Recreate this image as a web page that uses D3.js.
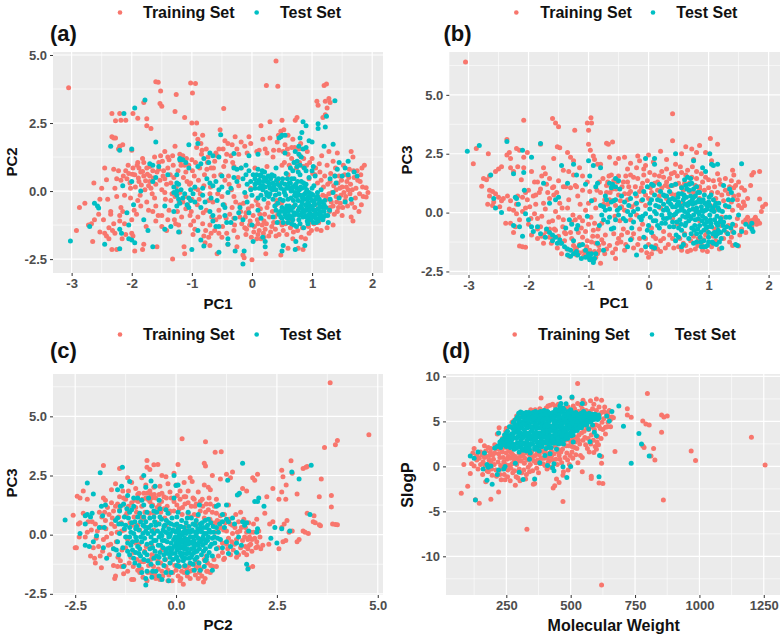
<!DOCTYPE html>
<html><head><meta charset="utf-8">
<script src="https://cdnjs.cloudflare.com/ajax/libs/d3/7.8.5/d3.min.js"></script>
<style>html,body{margin:0;padding:0;background:#fff}svg{display:block}text{font-family:"Liberation Sans",Arial,sans-serif;font-weight:bold}</style>
</head><body><svg id="c" width="784" height="639"></svg>
<script>
const seriesNames=["Training Set","Test Set"];
const colors=["#F8766D","#00BFC4"];

const trainA=[[-3.05,3.8],[-1.6,4.02],[-1.56,4],[-1.52,3.68],[-1.02,3.97],[-.94,3.95],[-.99,3.6],[-1.26,3.55],[-1.53,3.22],[-1.5,3.12],[-.47,3.03],[-1.28,2.92],[-1.12,2.7],[.4,4.78],[.24,3.88],[.43,3.85],[1.2,3.88],[1.24,3.93],[1.08,3.3],[1.1,3.15],[1.28,3.4],[1.22,3.3],[1.3,3.25],[1.25,3.05],[1.22,2.8],[1.18,2.7],[-2.33,2.85],[-2.2,2.85],[-2.1,2.6],[-1.98,2.85],[-2.27,2.58],[-2.18,2.6],[-1.9,2.68],[-1.68,2.3],[-1.75,2.4],[-1.75,2.66],[-1.8,3.25],[-2.33,2],[-2.3,1.95],[-2.27,1.95],[-2.2,1.65],[-2.15,1.7],[-2.22,1.55],[-2,1.5],[-1.82,1.2],[-1.9,1.05],[-1.75,.85],[-1.98,.85],
[-2.92,-1.45],[-2.87,-.6],[-2.78,-.45],[-2.72,-1.25],[-2.67,-1.2],[-2.65,-1.85],[-2.62,-1.05],[-2.63,.3],[-2.53,-1.5],[-2.5,.1],[-2.53,-.3],[-2.45,.85],[-2.47,-1.05],[-2.45,-1.55],[-2.42,-1.65],[-2.38,-1.75],[-2.35,-.85],[-2.33,-2.15],[-2.3,-1.2],[-2.35,-.75],[-2.3,.8],[-2.28,-1.55],[-2.25,-2.15],[-2.25,-.2],[-2.25,.45],[-2.2,-.9],[-2.18,-.6],[-2.18,.4],[-2.15,-.75],[-2.12,-1.2],[-2.1,-1.6],[-2.1,.75],[-2.05,.65],[-2.08,.45],[-2.02,.1],[-2.02,-.25],[-2,-1.55],[-1.98,-1.65],[-1.95,-2.2],[-1.95,.6],[-1.92,-.85],[-1.9,-.35],[-1.88,.35],[-1.85,.7],[-1.82,-2.15],[-1.8,-1.95],[-1.8,.55],[-1.78,.05],[-1.75,-.4],[-1.72,-.7],[-1.72,.2],[-1.7,.55],[-1.65,.75],[-1.62,-.25],[-1.6,-.55],[-1.58,-2.05],[-1.55,1.05],[-1.52,1.3],[-1.5,-.9],[-1.48,.55],[-1.45,-.05],[-1.45,1.45],[-1.42,-1.45],[-1.4,.85],[-1.38,1.15],[-1.35,-.35],[-1.32,-2.5],[-1.3,.5],[-1.28,1.65],[-1.27,-1.2],[-1.24,-.75],[-1.2,-.05],[-1.18,.95],[-1.15,1.3],[-1.13,-2.05],[-1.12,-2.3],[-1.1,-.65],[-1.08,.35],[-1.05,.95],[-1.03,-.9],[-1,1.15],[-1,2.5],[-.98,-1.6],[-.96,.55],[-.95,2.1],[-.92,2.5],[-.9,1.9],[-.88,-.3],[-.87,.85],[-.85,1.75],[-.82,-1.2],[-.82,2.05],[-.8,.2],[-.78,-1.9],[-.76,-.7],[-.73,1.25],[-.7,-2],[-.68,-1.55],[-.65,-.4],[-.63,.55],[-.6,-1.05],[-.58,-2.3],[-.55,1.55],[-.53,2.25],[-.5,-.2],[-.5,-1.7],[-.47,.9],[-.45,1.85],[-.43,-1],[-.4,-1.95],[-.38,.25],[-.35,1.3],[-.33,-.6],[-.3,-1.45],[-.28,2],[-.25,1.55],[-.23,.5],[-.2,-.95],[-.18,1.8],[-.15,-2.35],[-.13,-2.45],[-.12,-1.35],[-.1,-.2],[-.08,1.4],[-.05,2],[-.03,-1.1],[0,-2.52],[0,-.55],[.03,-1.5],[.05,.85],[.08,1.45],[.1,-1.2],[.13,-.85],[.15,2.4],[.15,-1.75],[.18,1.9],[.2,-1.1],[.22,-1.4],[.23,-2.3],[.25,1.4],[.3,1.95],[.3,2.55],[.33,-1.3],[.35,1.25],[.38,-.95],[.4,-1.65],[.42,1.8],[.45,1.5],[.48,2.2],[.48,-2.35],[.5,2.6],[.5,-1.25],[.53,2.25],[.55,1.7],[.58,-1.6],[.6,1.35],[.6,-2.1],[.65,-1.05],[.68,1.9],[.72,2.6],[.75,2.7],[.77,-2.1],[.8,1.3],[.82,-1.7],[.85,-2.15],[.92,1.45],[.95,-1.55],[1,1.2],[1.05,.6],[1.08,-1.4],[1.12,1],[1.15,-1.45],[1.15,.4],[1.2,-.55],[1.25,.95],[1.25,-1.35],[1.28,1.45],[1.3,.35],[1.32,-.4],[1.35,1.1],[1.35,-1.25],[1.4,.05],[1.42,1.4],[1.42,-.75],[1.45,.55],[1.48,-.15],[1.5,.15],[1.5,-.9],[1.52,.95],[1.55,-.35],[1.58,.35],[1.6,.05],[1.62,.8],[1.65,-.95],[1.65,1.45],[1.68,1.25],[1.68,-1.1],[1.7,.5],[1.72,-.25],[1.75,.75],[1.78,-.75],[1.8,.35],[1.82,-.5],[1.83,.85],[1.85,-.2],[1.87,.95],[1.9,.12],[1.93,-.05],[1.9,-.22],
[-1.55,.8],[-1.35,.3],[-1.28,-.2],[-1.15,-.4],[-1,-.3],[-.9,-.95],[-.7,-.1],[-.55,-.7],[-.45,.4],[-.3,-.2],[-.2,-.5],[-.1,-.8],[-.02,.1],[.1,-.5],[.25,-.6],[.4,-.5],[.45,.3],[.6,.6],[.7,-.55],[.85,.9],[.95,.45],[1.05,-.5],[1.1,-.2],[1.18,-.15],[1.25,-.3],[1.28,-.1],[1.3,-.6],[1.35,-.55],[1.38,.55],[1.4,-.2],[1.05,-.85],[.95,-1.15],[-.95,.1],[-1.1,.7],[-1.45,.45],[-1.7,.35],[-1.88,.85],[-.75,.8],[-.62,1.1],[-.42,1.35],[-.3,.9],[-.18,.85],[.25,.9],[.5,.95],[.72,1.05],[.2,-1.7],[.1,-1.6],[-.1,-1.6],[-.3,-1],[-.7,-1.25],[-.8,-1.65],[-1.02,-1.25],[-1.2,-1.5],[-1.5,-1.3],[-1.6,-1.1]];
const trainA2=[[-2.42,.42],[-2.38,-1.35],[-2.32,-1.45],[-2.28,.1],[-2.22,.75],[-2.16,-1.75],[-2.14,.55],[-2.12,-.15],[-2.06,.95],[-2.03,.3],[-1.99,.62],[-1.96,-.7],[-1.94,.15],[-1.91,.95],[-1.89,.48],[-1.86,-.15],[-1.84,.22],[-1.82,.72],[-1.8,1.05],[-1.77,.38],[-1.76,-1.3],[-1.74,.62],[-1.7,.9],[-1.68,.1],[-1.66,-.1],[-1.64,.48],[-1.62,1.25],[-1.6,.25],[-1.58,.7],[-1.56,-.9],[-1.53,.4],[-1.5,.05],[-1.49,1.1],[-1.47,.75],[-1.44,-.3],[-1.42,.25],[-1.4,1.25],[-1.38,-.7],[-1.36,.6],[-1.33,-.1],[-1.31,.95],[-1.29,-1.05],[-1.26,.15],[-1.23,.75],[-1.21,-.4],[-1.19,1.1],[-1.17,-.95],[-1.14,.5],[-1.11,-.2],[-1.09,1.2],[-1.07,-.5],[-1.04,.25],[-1.01,-.75],[-.99,.75],[-.97,-1.1],[-.94,1.05],[-.91,-.5],[-.89,.4],[-.86,-.1],[-.84,1.35],[-.81,-.8],[-.79,.6],[-.77,-1.45],[-.74,1.05],[-.72,-.35],[-.69,.15],[-.67,-.95],[-.64,.85],[-.62,-1.45],[-.6,1.4],[-.57,-.1],[-.54,-.95],[-.52,.6],[-.49,-1.3],[-.46,-.5],[-.44,1.1],[-.42,-1.55],[-.39,.55],[-.37,-.85],[-.34,.05],[-.32,1.05],[-.29,-1.25],[-.27,-.4],[-.24,-1.7],[-.22,.2],[-.19,-.75],[-.17,-1.2],[-.14,-.45],[-.11,-.95],[-.09,-1.4],[-.06,-.65],[-.04,-1.25],[-.01,-1.7],[.02,-.9],[.04,-1.3],[.07,-.35],[.09,-1.05],[.12,-1.45],[.14,-.65],[.17,-1.25],[.19,-1.55],[.21,-.85],[.24,-1.2],[.27,-.45],[.29,-.95],[.31,-1.5],[.34,-.75],[.36,-1.15],[.39,-1.4],[.41,-.35],[.43,-.85],[.46,-1.15],[.49,-.45],[.52,-1.45],[.54,1.05],[.56,-1.2],[.59,1.55],[.62,.95],[.64,-1.35],[.66,1.2],[.69,-1.5],[.71,1.6],[.74,.85],[.76,-1.45],[.79,1.05],[.81,1.75],[.84,-1.35],[.86,1.2],[.89,-1.75],[.91,.95],[.94,-1.3],[.96,1.05],[.99,-1.45],[1.01,.65],[1.03,-1.2],[1.06,.85],[1.09,.3],[1.11,-1.15],[1.13,.7],[1.16,1.3],[1.19,.15],[1.21,.55],[1.23,-.2],[1.26,.25],[1.29,-.75],[1.31,.65],[1.33,-.05],[1.36,.2],[1.37,-.85],[1.39,.85],[1.41,-.4],[1.43,.3],[1.44,-.6],[1.46,.1],[1.47,-.45],[1.49,.4],[1.51,-.6],[1.53,-.05],[1.54,.6],[1.56,-.2],[1.57,.15],[1.59,-.55],[1.61,.5],[1.63,-.1],[1.64,.25],[1.66,-.45],[1.67,.05],[1.69,.75],[1.71,-.6],[1.73,.1],[1.76,.4],[1.79,-.1],[1.81,.6],[1.84,.15],[-.92,1.6],[-.83,1.5],[-.76,1.55],[-.68,.85],[-.58,1.3],[-.48,1.55],[-.4,1.75],[-.33,1.7],[-.22,1.35],[-.12,1.65],[-.02,1.75],[.12,1.5],[.22,1.55],[.36,1.5],[.44,2.05],[.52,1.45],[.6,2.05],[.66,1.6],[.78,1.55],[-1.12,.95],[-1.2,1.35],[-1.32,1.3],[-1.02,.3],[-.9,.05],[.08,-1.75],[.28,-1.65],[.45,-1.6],[.68,-1.75],[-.25,-2.05],[-.55,-1.55],[-.72,-1.7],[-.95,-1.4],[-1.22,-1.25],[-1.4,-1.05],[-1.65,-.75],[-1.85,-.55],[-2,-1.05],[-2.2,-1.1],[-2.55,-.85],[-2.4,-.3]];
const testA=[[-3.02,-1.83],[-2.62,-.45],[-2.57,-.55],[-2.55,-.62],[-2.7,-1.3],[-2.45,-1.95],[-2.2,-1.4],[-2.17,-1.55],[-2.2,-2.12],[-2.05,-1.75],[-2,-1.8],[-1.95,-1.9],[-1.97,-.5],[-2.08,-.8],[-2.05,-1.25],[-1.8,-1.05],[-1.73,-1.45],[-1.65,-2.05],[-2.35,1.65],[-2.2,1.5],[-2.13,2.85],[-1.95,3.05],[-1.78,3.35],[-2,1.55],[-1.6,1.8],[-2.15,.2],[-2,.35],[-1.85,0],[-1.7,1],[-1.65,.95],[-1.65,.35],[-1.55,.9],[-1.6,.5],[-1.45,-.55],[-1.45,-1.4],[-1.35,-1.3],[-1.3,-.75],[-1.25,.6],[-1.25,0],[-1.25,-.15],[-1.22,-.3],[-1.22,-1.5],[-1.2,1.2],[-1.05,1.7],[-1.05,-.25],[-1.02,-.35],[-1,-2.15],[-.98,-.1],[-.95,.15],[-.9,1.75],[-.9,-1.45],[-.85,-1.8],[-.82,.1],[-.8,-2.02],[-.7,1.4],[-.7,-.75],[-.65,.2],[-.65,-.9],[-.6,-1.3],[-.55,-2.25],[-.52,2.07],[-.5,.55],[-.48,-.5],[-.42,-1.15],[-.4,-1.75],[-.4,-1.95],[-.3,1.38],[-.28,-2.2],[-.25,.8],[-.22,-.8],[-.15,-2.68],[-.13,-2.2],[-.1,.95],[-.05,1.3],[-.08,-.4],[.02,-1.85],[.05,.45],[.1,1.35],[.12,.3],[.15,.2],[.18,.05],[.18,-1.7],[.22,-1.85],[.22,-2.05],[.2,.5],[.25,.35],[.3,.1],[.33,.6],[.35,-.3],[.4,.05],[.4,.85],[.45,1.95],[.48,2],[.5,2.05],[.52,-2],[.5,-2.2],[.55,1.4],[.55,2.05],[.6,-.75],[.62,-.9],[.65,0],[.68,.15],[.7,-1.25],[.72,-2.15],[.73,-1.85],[.75,1.1],[.77,.7],[.78,1.35],[.8,-.15],[.8,1.95],[.82,.35],[.83,2.15],[.85,2.55],[.87,-.3],[.9,2.4],[.88,-2],[.9,-.05],[.92,-.6],[.95,.5],[.97,-.25],[1,1.8],[1.02,.9],[1.03,-.7],[1.08,-.85],[1.1,2.47],[1.1,2.3],[1.12,-1],[1.2,1.65],[1.22,2.35],[1.24,2.75],[1.26,-.9],[1.3,.45],[1.35,1.72],[1.38,3.32],[1.45,1.05],[1.5,.55],[1.4,.3],[1.45,-.25],[1.55,-.4],[1.6,1.1],[1.65,-.3],[1.7,.7],[1.75,.55],
[.05,.1],[.08,.6],[.12,.4],[.17,.75],[.22,.15],[.27,.55],[.3,-.1],[.35,.3],[.42,.25],[.45,-.1],[.48,.1],[.52,-.35],[.55,.25],[.57,.65],[.58,-.55],[.62,.3],[.65,-.25],[.68,-.6],[.7,.45],[.72,-.05],[.73,-.85],[.75,.1],[.77,-.35],[.78,-1.05],[.8,.6],[.82,-.55],[.83,.1],[.85,-.95],[.87,.85],[.88,-.1],[.9,-.7],[.9,.25],[.92,-1.1],[.93,-.4],[.95,-.05],[.97,-.55],[.98,-.85],[1,.1],[1,-.35],[1.02,-.15],[1.04,-.5],[1.05,.55],[1.07,-1.15],[1.1,-.65],[1.12,-.3],[1.14,-.85],[1.15,.05],[1.17,-.6],[1.18,-1.05],[1.2,-.75],[.4,-.7],[.45,-.85],[.5,-.6],[.5,-1],[.55,-.85],[.6,-1.15],[.65,-.7],[.68,-1.05],[.2,-.3],[.25,-.15],[.1,-.25],[0,-.15],[-.05,.75],[-.15,.45],[-.3,.85],[-.35,.1],[-.55,.05],[-.7,.3],[-.78,-.4],[-.85,-.6],[-1.05,-.6],[-1.12,-.1],[-1.18,.05],[-1.25,.3],[-1.3,-.05],[-1.4,.6],[-.2,-.6],[-.28,-1],[-.45,-.9],[-.58,-.35],[-1.15,1.15],[-.8,1.2],[-.72,1.05],[-.55,1.25]];
const testA2=[[-.02,.35],[.02,.6],[.07,.3],[.1,.8],[.14,.55],[.19,.35],[.21,.7],[.24,-.05],[.28,.3],[.31,.45],[.34,.05],[.37,.55],[.39,-.15],[.44,.45],[.47,-.3],[.5,.3],[.53,.05],[.56,-.15],[.59,.45],[.6,-.3],[.63,.1],[.66,.45],[.69,-.35],[.71,.2],[.74,-.2],[.76,.35],[.79,-.6],[.81,.15],[.84,-.25],[.86,.3],[.89,-.5],[.91,.05],[.94,-.2],[.96,-.7],[.99,-.1],[1.01,-.55],[1.03,.2],[1.06,-.3],[1.09,-.05],[1.11,-.45],[1.13,-.75],[1.16,-.4],[1.19,-.95],[1.21,-.35],[1.23,-.6],[1.27,-1.15],[1.29,-.7],[.35,-.95],[.38,-.55],[.42,-1.15],[.47,-.75],[.52,-1.15],[.56,-.65],[.59,-1],[.62,-.55],[.66,-1.2],[.7,-.8],[.74,-1.3],[.77,-.7],[.8,-1.2],[.83,-.8],[.86,-1.35],[.89,-.9],[.93,-1.2],[.97,-1],[1.02,-1.15],[1.06,-1],[1.1,-1.1],[.75,.9],[.8,.95],[.82,1.25],[.7,1.05],[.68,.75],[.64,.85],[.72,1.45],[.78,1.65],[.85,1.55],[.9,1.6],[.9,.75],[.95,1.85],[1,.75],[-.1,.6],[-.18,.85],[-.25,.35],[-.08,.25],[-.12,-.05],[-.3,.5],[-.4,-.05],[-.45,-.6],[-.5,.15],[-.6,.35],[-.68,-.25],[-.75,.45],[-.82,-.15],[-.95,-.4],[-1.02,.05],[-1.08,-.5],[-1.15,-.25],[-1.2,-.45],[-1.25,-.55],[-1.22,.25],[-1.3,.15],[-.9,.9],[-.85,1],[-1.2,1.15],[-1.05,.85],[-1.1,1.05],[-.65,1.3],[.15,-1],[0,-1.25],[-.15,-1.05],[-.35,-1.15],[-.55,-1.3],[-.65,-1.1],[.1,-.7],[-.05,-.8],[1.3,-.3],[1.38,.55],[1.42,.8],[1.55,.85],[1.35,-.05],[1.6,.6]];
const testA3=[[.15,.6],[.23,.45],[.29,.2],[.36,.15],[.41,.4],[.46,.2],[.51,.45],[.54,-.05],[.58,.1],[.61,.15],[.64,.3],[.67,.05],[.71,-.15],[.73,.25],[.76,-.05],[.79,.05],[.83,-.4],[.85,-.15],[.88,.15],[.92,-.25],[.94,-.45],[.99,-.65],[1.03,-.4],[1.06,-.7],[1.09,-.2],[1.13,-.55],[1.16,-.95],[1.2,-.5],[1.22,-.9],[.43,-.45],[.48,-.95],[.53,-.75],[.57,-.95],[.61,-.6],[.64,-1],[.69,-.9],[.72,-.5],[.76,-.85],[.79,-.9],[.84,-.65],[.87,-.75],[.91,-.95],[.95,-.85],[.98,-1.05],[1.01,-.95],[1.05,-.85],[.28,-.2],[.15,-.15],[.05,.25],[.18,.2],[-.02,.05],[.12,.1]];

const trainB=[[-3.05,6.4],[-2.08,3.92],[-1.6,4],[-1.55,3.8],[-1.5,3.65],[-.96,4.03],[-1.02,3.8],[-.95,3.8],[-1,3.5],[-1.23,3.5],[.4,4.2],[.4,3.05],[1.03,3.15],[1.15,2.9],[-2.87,2.72],[-2.92,2.07],[-2.67,2.5],[-2.36,3.1],[-2.32,2.55],[-2.36,2.45],[-2.3,2.3],[-2.2,2.72],[-2.15,2.65],[-2.08,2.35],[-2.02,2.55],[-2.3,1.9],[-2.25,1.75],[-2.18,1.95],[-2.08,1.9],[-2.45,1.95],[-2.5,1.85],[-2.55,1.75],[-2.65,1.55],[-2.7,1.4],[-2.75,1.45],[-2.78,1.12],[-2.65,.95],[-2.6,.9],[-2.55,.8],[-2.65,.7],[-2.5,.65],[-2.68,.35],[-2.58,.45],[-2.45,.5],[-2.35,.7],[-2.3,-.45],[-2.38,-.45],[-2.3,.5],[-2.25,.1],[-2.22,-.6],[-2.2,.35],[-2.25,-.85],[-2.12,1.4],[-2.05,.85],[-2.02,.55],[-1.98,.25],[-2.05,-1.47],[-2.15,-1.42],[-2.1,-1.45],[-2.2,-.05],[-2.1,.05],[-1.95,1.75],[-1.9,1.3],[-1.85,1.3],[-1.78,1.55],[-1.75,1.9],[-1.72,1.65],[-1.65,1.45],[-1.8,2.9],[-1.58,2.3],[-1.52,2.8],[-1.48,2.75],[-1.35,2.55],[-1.3,2.35],[-1.25,2.2],[-1.42,1.8],[-1.33,1.75],[-1.25,1.6],[-1.15,1.9],[-1.1,1.55],[-1,2.9],[-.97,2.65],[-.92,2.4],[-.9,2.25],[-.85,2.05],[-.8,2.05],[-.7,2.95],[-.67,2.9],[-.6,3],[-.65,2.35],[-.55,2.1],[-.5,2.3],[-.4,2.35],[-.35,1.85],[-.3,2.1],[-.18,2.4],[-.15,2.2],[-.05,2],[0,2.45],[.08,2.15],[.2,2.6],[.3,2.25],[.45,2.05],[.55,2.5],[.62,2.8],[.72,2.7],[.8,2.55],[.85,2.85],[.95,2.55],[1.05,2.2],[.75,2.25],
[-1.9,-.05],[-1.85,-.25],[-1.8,-.6],[-1.75,.4],[-1.7,-.8],[-1.65,.6],[-1.6,-.35],[-1.55,.05],[-1.5,-1],[-1.48,.4],[-1.43,-.6],[-1.4,-1.2],[-1.35,.2],[-1.3,-.85],[-1.25,-1.4],[-1.22,-.3],[-1.18,.7],[-1.15,-1.7],[-1.12,-.65],[-1.1,-1.05],[-1.05,.1],[-1.03,-1.45],[-1,-.5],[-.98,.9],[-.95,-1.25],[-.92,-.75],[-.9,-1.65],[-.88,.2],[-.85,-1],[-.83,-1.4],[-.8,-2.15],[-.78,-.45],[-.75,-1.3],[-.73,-1.75],[-.7,.85],[-.68,1.3],[-.65,.55],[-.62,1.6],[-.6,1],[-.58,-.9],[-.55,-1.55],[-.55,.3],[-.52,1.3],[-.5,.75],[-.48,-.35],[-.46,-1.25],[-.44,1.1],[-.42,-.7],[-.4,-1.6],[-.38,1.55],[-.35,.55],[-.33,1.1],[-.3,-.3],[-.28,-1.1],[-.25,1.5],[-.22,.35],[-.2,1.9],[-.18,-1.35],[-.15,-.7],[-.12,-1.6],[-.1,1.25],[-.08,1.6],[-.05,-1.1],[-.03,-1.7],[0,.6],[0,-1.9],[.03,1.05],[.05,-.65],[.08,-1.55],[.1,1.6],[.12,-1.1],[.15,1.3],[.18,.7],[.2,-1.65],[.22,1.75],[.25,-.8],[.28,1.15],[.3,1.85],[.33,-1.35],[.35,1.45],[.38,.8],[.4,-1.1],[.43,1.7],[.45,1.2],[.48,-.5],[.5,-1.45],[.53,1.95],[.55,-1.6],[.58,.95],[.6,-.9],[.62,1.6],[.65,-1.65],[.68,1.25],[.7,-1.2],[.73,1.95],[.75,.85],[.78,-1.55],[.8,1.45],[.83,-1.1],[.85,.6],[.88,1.65],[.9,-1.6],[.93,.95],[.95,-.95],[.98,-1.65],[1,1.05],[1.03,.3],[1.05,-1.45],[1.08,1.35],[1.1,-.7],[1.12,.6],[1.15,1.65],[1.18,-1.55],[1.2,1.2],[1.22,-.2],[1.25,.5],[1.28,1.45],[1.3,-.85],[1.33,.8],[1.35,-1.25],[1.38,1.35],[1.4,.1],[1.42,1.05],[1.4,-1.4],[1.38,-1.05],[1.4,1.8],[1.42,1.6],[1.5,-1.42],[1.48,.55],[1.45,-.55],[1.5,.3],[1.5,1.3],[1.55,.2],[1.58,.45],[1.6,.95],[1.55,-.7],[1.62,-.3],[1.65,-.2],[1.68,-.45],[1.7,1.15],[1.72,1.6],[1.75,1.7],[1.85,1.75],[1.85,.58],[1.95,.35],[1.9,.25],[1.88,.05],[1.82,-.35],[1.85,-.45],[1.8,-.5],[1.78,-.2],[1.8,-.32],
[-1.75,-1.3],[-1.6,-1.1],[-1.52,-1.5],[-1.45,-1.75],[-1.32,-1.85],[-1.2,-1.5],[-1.08,-1.85],[-.88,-1.9],[-.92,-2.05],[-1.2,-1.8],[-.55,-1.95],[-.25,-1.5],[.05,-1.75],[-1.95,-.95],[-2,-.5],[-1.85,-1.1],[-1.65,-.7],[-1.42,-.3],[-1.28,-.4],[-1.15,-.2],[-.75,.35],[-.9,.55],[-.82,1.3],[-.45,.25],[-.12,.5],[.2,.2],[.55,.4],[.75,.15],[.4,-.25],[-.3,.9],[-.05,.3],[-.2,-.1],[.85,-.35],[1.1,.1],[-.62,1.05],[-.4,.8],[-.15,.9],[.55,1.1],[.3,1.3],[.85,1.1]];
const trainB2=[[-2.42,.6],[-2.32,.15],[-2.18,.7],[-2.15,-.3],[-2.1,.65],[-2.05,.2],[-2,.95],[-1.96,-.25],[-1.92,.7],[-1.88,.35],[-1.85,-.7],[-1.82,.85],[-1.8,1],[-1.78,-.15],[-1.75,-.95],[-1.72,.15],[-1.68,.85],[-1.66,-.4],[-1.62,-1.3],[-1.6,1.05],[-1.57,-.7],[-1.53,.85],[-1.5,-.2],[-1.47,-1.3],[-1.44,.2],[-1.42,1.1],[-1.38,-.9],[-1.36,-1.55],[-1.33,.55],[-1.28,-1.1],[-1.26,-.1],[-1.23,-1.6],[-1.2,1.1],[-1.17,-.85],[-1.14,.35],[-1.1,-.35],[-1.08,-1.65],[-1.05,-.8],[-1.02,-1.2],[-1,.4],[-.98,-1.6],[-.96,-.2],[-.93,-1],[-.9,-.45],[-.88,-1.3],[-.86,.95],[-.84,-.7],[-.82,-1.6],[-.8,.85],[-.78,-1.15],[-.76,1.45],[-.73,.55],[-.72,-.95],[-.7,1.15],[-.68,.35],[-.66,1.55],[-.64,.85],[-.6,.5],[-.58,1.35],[-.56,-.15],[-.54,1],[-.52,-1.3],[-.5,1.55],[-.47,.5],[-.45,-.95],[-.42,1.3],[-.4,.1],[-.38,-1.35],[-.35,1.3],[-.33,.8],[-.3,1.6],[-.28,.25],[-.25,-.9],[-.22,1.1],[-.2,.7],[-.18,1.45],[-.15,-1.1],[-.12,1.05],[-.1,-.5],[-.08,1.85],[-.05,.75],[-.02,1.35],[0,-1.35],[.02,1.7],[.05,.85],[.08,-1],[.1,1.25],[.12,-1.4],[.15,.95],[.18,1.55],[.2,-1.2],[.22,1.05],[.25,1.5],[.28,-1.5],[.3,.6],[.33,1.1],[.35,-.95],[.38,1.65],[.4,1.15],[.42,-1.5],[.45,.75],[.48,1.55],[.5,1.25],[.52,-1.1],[.55,1.7],[.58,-1.3],[.6,1.25],[.62,-1.4],[.65,1.8],[.68,.9],[.7,-1.6],[.72,1.5],[.75,-1],[.78,1.15],[.8,1.75],[.82,-1.4],[.85,1],[.88,-1.35],[.9,1.3],[.92,-1.15],[.95,1.5],[.98,-.8],[1,1.4],[1.02,-1.35],[1.05,.85],[1.08,-1],[1.1,1.1],[1.12,-1.2],[1.15,.85],[1.18,1.4],[1.2,-.55],[1.22,.75],[1.25,-1.1],[1.28,.95],[1.3,.25],[1.33,-.55],[1.35,1.1],[1.38,.45],[1.4,-.8],[1.42,.7],[1.45,1.15],[1.48,-.25],[1.5,.75],[1.52,-.95],[1.55,1.05],[1.58,-.4],[1.6,.3],[1.62,-.85],[1.65,.6],[1.7,-.35],[1.72,-.6],[1.75,-.3],[1.78,-.45],[-2.6,.3],[-2.48,.25],[-1.7,1.2],[-1.58,1.1],[-1.5,1.35],[-1.38,1.1],[-1.3,1.05],[-1.22,1.15],[-1.1,.95],[-1.02,1.3],[-1.58,.75],[-1.88,.75],[-1.05,-1.7],[-.98,-1.95],[-.85,-1.75],[-.65,-1.4],[-.7,-1.55],[-.6,-1.7],[-.5,-1.1],[-.35,-.85],[-1.4,-.85],[-1.55,-.75],[-1.65,-1.05],[-1.78,-1],[-1.15,-1.35],[.25,-1.1],[.15,-1.55]];
const testB=[[-3.02,2.6],[-2.82,2.85],[-2.36,3.02],[-2.63,1.6],[-2.1,2.65],[-2.25,1.65],[-2.08,1.7],[-1.95,2.35],[-1.8,2.93],[-2.58,.6],[-2.55,.2],[-2.45,0],[-2.22,.65],[-2.2,.6],[-2.17,.35],[-2.07,.95],[-2.05,-.05],[-2,-.3],[-2.25,-.55],[-2.15,-.6],[-2.1,-1],[-1.95,-.6],[-1.92,-.8],[-1.75,1.25],[-1.65,.4],[-1.55,.55],[-1.5,.65],[-1.45,2],[-1.25,2.05],[-1.35,1.25],[-1.2,1.6],[-1.05,1.2],[-1,2.2],[-.92,2],[-.8,1.9],[-.98,1.55],[-.85,1.25],[-.88,1.1],[-.65,1.25],[-.6,1.2],[-.55,1.45],[-.05,2.3],[.1,2.3],[.1,2.05],[.45,2.5],[.75,2.2],[1.02,2.5],[1.05,2.05],[1.08,2],[1.15,2.05],[1.55,2.07],[.9,1.9],[.95,1.75],
[-1.85,-.6],[-1.8,-.9],[-1.72,-1.05],[-1.65,-.85],[-1.6,-1.2],[-1.55,-1.05],[-1.48,-1.15],[-1.4,-1.45],[-1.38,-.65],[-1.35,-1.8],[-1.3,-1.6],[-1.28,-.5],[-1.25,-1.75],[-1.2,-1.65],[-1.12,-1.95],[-1.1,-1.35],[-1.05,-1.9],[-1,-1.9],[-.98,-2],[-.92,-2],[-.95,-1.95],[-.92,-2.12],[-.88,-1.75],[-.85,-1.3],[-.82,-.55],[-.78,-.1],[-.75,.25],[-.72,.7],[-.75,-1.6],[-.68,-.4],[-.65,.15],[-.62,-.7],[-.6,1.15],[-.58,.5],[-.55,-.3],[-.52,.1],[-.5,1.35],[-.48,.2],[-.42,-.25],[-.4,.45],[-.35,.05],[-.3,-.1],[-.3,.6],[-.25,-.4],[-.22,.8],[-.18,.15],[-.2,-1.8],[-.12,-.3],[-.08,.9],[-.05,-.05],[-.05,-1.45],[0,-.55],[.02,.4],[.05,-.85],[.08,1.15],[.1,.05],[.12,-.35],[.15,.55],[.18,-.65],[.2,.9],[.22,-.1],[.25,.35],[.28,-.45],[.3,.7],[.32,.1],[.35,-.2],[.38,1.15],[.4,.25],[.42,-.6],[.44,.55],[.46,-.95],[.48,.05],[.5,.8],[.52,.3],[.52,-.3],[.55,-1.45],[.55,-.75],[.58,.55],[.6,.05],[.6,1.4],[.62,-.45],[.64,1],[.65,.3],[.67,-1.1],[.68,-.15],[.7,.7],[.7,1.45],[.72,-.65],[.74,.15],[.75,-1.3],[.77,.4],[.78,-.3],[.8,-.9],[.8,1.1],[.82,.05],[.84,.55],[.85,-.55],[.87,-1.25],[.88,.25],[.9,-.15],[.92,-.75],[.93,.75],[.95,-1.45],[.95,.1],[.97,-.4],[1,.45],[1,-1.05],[1.02,-.1],[1.04,.75],[1.05,-.6],[1.07,.2],[1.08,-1.3],[1.1,-.3],[1.12,.4],[1.12,-1],[1.15,-.55],[1.18,.1],[1.2,-.85],[1.22,-1.5],[1.25,1.15],[1.25,-.4],[1.28,.3],[1.3,-.6],[1.33,.55],[1.35,-.2],[1.38,.85],[1.4,-.5],[1.42,-.85],[1.45,-1.35],[1.48,-1.4],[1.5,-.1],[1.55,-.8],[1.62,-.5],[1.68,-.6],[1.72,-.7],[1.74,-.8],[1.72,-.45],[1.35,1]];
const testB2=[[.02,.15],[.05,.55],[.08,-.35],[.1,.75],[.13,-.05],[.15,-.55],[.17,.25],[.2,.5],[.22,-.45],[.25,.1],[.27,.7],[.3,-.25],[.33,.45],[.35,-.6],[.37,.35],[.4,.6],[.42,-.1],[.45,.25],[.47,-.4],[.49,.65],[.5,-.65],[.53,.1],[.55,.8],[.57,-.15],[.6,.35],[.61,-.55],[.63,.65],[.65,-.05],[.67,-.35],[.69,.45],[.71,-.9],[.73,.35],[.75,-.1],[.77,-.55],[.78,.7],[.8,.2],[.82,-.7],[.84,-.05],[.86,-1.05],[.87,.45],[.89,-.35],[.91,.05],[.92,-1.2],[.94,.4],[.96,-.65],[.98,.15],[1,-.85],[1.01,.65],[1.03,-.3],[1.05,.1],[1.06,-1.25],[1.08,.55],[1.1,-.85],[1.11,.3],[1.14,-.15],[1.16,-.75],[1.17,.4],[1.19,-.4],[1.21,-1.1],[1.23,.05],[1.26,-.75],[1.29,-.2],[1.32,-.9],[1.34,.25],[1.37,-.65],[1.4,.55],[.45,-1.2],[.5,-1.05],[.58,-1.35],[.6,-.95],[.62,1.15],[.65,1.5],[.68,.95],[.72,1.25],[.75,1],[.55,1.05],[.45,1.2],[.35,.9],[.25,.75],[.18,1.2],[.05,1.2],[-.02,1.1],[-.1,.55],[-.15,-.2],[-.2,.4],[-.25,.05],[-.28,-.65],[-.33,.3],[-.38,-.35],[-.45,.7],[-.5,-.1],[-.55,.55],[-.58,-.65],[-.62,.45],[-.65,-.2],[-.7,.55],[-.72,.1],[-.75,-.3],[-.8,.3],[-.62,1.05],[-.55,1.1],[-.48,1],[-.35,-1.45],[-.3,-1.15],[-.08,-1.05],[.05,-1.45],[.1,-1.5],[-1.35,-1.55],[-1.3,-1.85],[-1.18,-1.8],[-1.15,-1.4],[-1.05,-1.6],[-1,-1.75],[-.95,-1.75],[-.9,-1.95],[-1.45,-1.3],[-1.52,-1.3],[-1.6,-.95],[-1.7,-.7],[-1.25,-1.2],[-1.18,-.55],[-1.32,-.3],[-1.2,-.7],[-1.02,-.15],[-.95,.5]];
const testB3=[[.45,-.05],[.5,.45],[.54,-.5],[.56,.2],[.59,.75],[.62,-.2],[.66,.4],[.68,.1],[.71,-.25],[.73,.55],[.76,-.75],[.79,.05],[.81,.45],[.83,-.25],[.85,.85],[.87,-.85],[.89,.1],[.91,.55],[.93,-.5],[.95,-.25],[.97,.3],[.99,-.6],[1,-1.25],[1.02,.3],[1.04,-.45],[1.07,-.9],[1.09,.05],[1.13,-.45],[1.15,-.9],[1.16,.2],[1.2,-.25],[1.24,-.55],[.3,.2],[.35,-.05],[.4,-.4],[.25,-.25],[.12,.3],[.03,-.2],[-.02,-.75],[-.1,-.15],[.75,.65],[.82,.85],[.68,1.2],[.88,-1.45],[.8,-1.25],[.92,-1.45],[.98,-1.4],[1.13,-1.35],[1.18,-1.25],[.35,.55],[.48,.35],[.6,.65]];

const trainC=[[3.82,6.42],[4.78,4.22],[4,3.98],[3.95,3.8],[3.68,3.68],[.15,4.05],[.73,3.93],[.97,3.48],[1.12,3.5],[.7,3.02],[.73,2.9],[.05,2.97],[-.72,3.13],[-.55,2.95],[-.72,2.85],[-.65,2.75],[-1.4,2.8],[-1.8,2.92],[-.45,2.97],[-.35,2.5],[-.05,2.6],[-.25,2.45],[.35,2.4],[.2,2.2],[.4,2.25],[-2.45,1.62],[-2.38,1.55],[-2.3,1.85],[-2.2,1.5],[-1.8,1.55],[-1.6,1.9],[-1.5,2.15],[-1.2,2.4],[-1.1,2.2],[-1,1.95],[-.85,2.4],[-.8,1.75],[-.75,2.1],[-.6,1.55],[-.55,2],[-.4,2.05],[-.2,2.15],[-.15,1.8],[0,2.1],[.1,1.85],[.2,1.6],[.3,1.85],[.45,1.5],[.55,1.8],[.65,1.5],[.7,2.1],[.8,2],[.85,1.9],[.9,2.5],[1,1.5],[1.1,2.35],[1.25,2.55],[1.35,2.4],[1.4,2.65],[1.3,1.25],[1.55,1.7],[1.65,1.95],[1.75,1.85],[1.9,2.4],[1.95,2.3],[2.02,2.55],[2.4,1.95],[2.25,1.6],[2.62,2.72],[2.65,2.45],[2.55,1.5],[2.62,1.8],[2.73,2.1],[2.72,1.5],[2.85,3.12],[2.88,2.6],[3,1.72],[3.15,2.8],[3.22,2.85],[3.25,2.88],[3.6,2.35],[3.55,1.6],[3.85,1.65],[3.85,1.17],[3.25,.9],[3.42,.8],[3.4,.55],[3.45,.5],[3.55,.42],[3.58,.38],[3.88,.45],[3.95,.43],[4,.42],[3.15,.15],[3.2,.1],[3.28,.05],[3.05,-.2],[3,-.3],[2.75,.6],[2.68,.45],[2.62,.3],[2.72,-.25],[2.65,-.3],[2.55,-.6],[2.8,.1],[2.88,.15],[2.4,.55],[2.32,.45],[2.2,.9],[2.3,-.4],[2.15,-.45],[2,.65],[1.92,.45],[1.85,.1],[1.98,-.55],[1.88,-.7],[1.78,-.2],[1.72,.3],[1.9,-1.35],[1.8,-1.4],[1.6,.95],[1.55,.55],[1.4,.05],[1.35,.45],[1.25,-.4],[1.2,.85],[1.15,-.75],[1.08,.55],[1,-1.35],
[-2.5,-.55],[-2.47,-.55],[-2.55,.82],[-2.42,.45],[-2.38,.5],[-2.4,-.1],[-2.2,.1],[-2.1,.2],[-2.05,-.55],[-2.02,-1],[-2,-1.2],[-1.92,-.5],[-1.85,-1.4],[-1.9,.95],[-1.85,.3],[-1.75,.6],[-1.72,-.1],[-1.7,1.15],[-1.65,-.85],[-1.6,.45],[-1.55,1],[-1.52,-1.85],[-1.5,-1.75],[-1.48,-.3],[-1.45,1.3],[-1.42,.75],[-1.38,-1.1],[-1.35,.15],[-1.3,1.55],[-1.25,-.55],[-1.22,.9],[-1.2,-1.55],[-1.18,1.85],[-1.12,-.95],[-1.1,-1.9],[-1.05,-1.9],[-1.08,.4],[-1.02,1.45],[-1,-.35],[-.98,.95],[-.95,-1.5],[-.92,1.75],[-.9,.2],[-.88,-1.15],[-.85,1.2],[-.82,-1.8],[-.8,.65],[-.78,-.7],[-.75,1.55],[-.72,-1.95],[-.7,.3],[-.68,-1.3],[-.65,1.4],[-.62,1.7],[-.6,-.45],[-.58,1.25],[-.55,.9],[-.52,-1.7],[-.5,1.55],[-.48,.5],[-.45,-1.1],[-.42,1.25],[-.4,-1.9],[-.38,.95],[-.35,-1.55],[-.3,1.6],[-.28,.7],[-.25,-1.35],[-.22,1.2],[-.18,-1.7],[-.15,1],[-.1,-1.95],[-.05,1.4],[0,-1.5],[.03,1.65],[.05,-1.75],[.08,1.1],[.12,-1.85],[.15,.85],[.18,-2.1],[.2,-1.6],[.22,1.3],[.28,-1.75],[.3,.9],[.32,-1.3],[.38,1.2],[.4,-1.5],[.45,.85],[.48,-1.7],[.5,1.3],[.52,-1.15],[.58,-1.6],[.6,1],[.62,-1.45],[.68,-2],[.7,.7],[.72,-1.85],[.75,1.3],[.78,-1.2],[.82,1.55],[.85,-1.6],[.9,.95],[.92,-1.35],[.98,.5],[1,.9],[1.05,-.9],[1.12,.3],[1.2,-1],[1.25,.15],[1.3,-.15],[1.35,-.85],[1.4,.4],[1.45,-.4],[1.48,.85],[1.5,-.95],[1.52,.1],[1.6,-.55],[1.62,.3],[1.68,-.75],[1.7,-.1],[1.75,-.85],[1.8,.5],[1.82,-.45],[1.95,-.15],[2,-.3],[2.05,.15],[2.1,-.6],
[-1.55,-1.3],[-1.2,-.2],[-.95,.4],[-.55,.2],[-.6,-.85],[-.35,-.65],[-.25,.4],[.05,.3],[.25,.35],[.5,.45],[.6,.2],[.75,-.9],[-1.05,-.75],[-1.28,.2],[-1.6,.05],[-1.82,-.7]];
const trainC2=[[-2.3,.9],[-2.25,-.1],[-2.18,.55],[-2.12,-.9],[-2.08,.55],[-2,.45],[-1.98,-.15],[-1.95,.15],[-1.88,-.9],[-1.84,.75],[-1.8,-.2],[-1.77,.95],[-1.74,.25],[-1.68,-.45],[-1.66,.85],[-1.62,-.4],[-1.58,.7],[-1.55,-.6],[-1.52,.35],[-1.5,1.2],[-1.46,.1],[-1.44,-.95],[-1.4,1.05],[-1.36,.5],[-1.34,-.65],[-1.32,1.25],[-1.28,-1.3],[-1.25,.8],[-1.22,-.1],[-1.18,1.2],[-1.16,-1.2],[-1.14,.5],[-1.1,1.35],[-1.06,-1.35],[-1.04,.75],[-1,1.15],[-.97,-1.05],[-.94,1.4],[-.92,-.4],[-.88,.75],[-.86,-1.45],[-.83,1.5],[-.8,-1.15],[-.77,.95],[-.74,-.5],[-.72,1.75],[-.7,-1.6],[-.66,.9],[-.63,-1.05],[-.6,1.25],[-.56,-1.35],[-.54,1.7],[-.5,-.9],[-.47,1.15],[-.44,-1.45],[-.42,1.7],[-.38,-1.2],[-.36,1.4],[-.33,-1.75],[-.3,1.1],[-.26,-1.05],[-.24,1.55],[-.2,-1.5],[-.17,.9],[-.14,-1.2],[-.12,1.55],[-.08,-1.6],[-.05,1],[-.03,-1.3],[.02,1.25],[.06,-1.3],[.1,1.5],[.14,-1.55],[.16,1.15],[.2,-1.35],[.24,1.6],[.27,-1.45],[.3,1.35],[.34,-1.55],[.36,.75],[.42,1.55],[.44,-1.25],[.47,1.2],[.5,-1.4],[.54,.8],[.56,-1.3],[.6,1.4],[.64,-1.75],[.66,1.2],[.7,-1.05],[.73,.95],[.76,-1.55],[.8,1.05],[.84,.65],[.86,-1.3],[.9,.5],[.94,-1.05],[.97,.1],[1.02,.6],[1.05,-.55],[1.1,.8],[1.15,-.35],[1.18,-1.05],[1.22,.5],[1.28,-.6],[1.32,.65],[1.38,-.3],[1.42,-.65],[1.46,.3],[1.5,-.2],[1.55,-.85],[1.58,.15],[1.65,-.25],[1.68,.65],[1.72,-.5],[1.75,.1],[1.78,-.6],[1.82,-.1],[1.85,-.4],[1.88,-.2],[1.92,.1],[2.02,-.5],[2.08,-.1],[1.05,.25],[1.18,.2],[.85,1.3],[.95,1.2],[-1.75,1.45],[-1.6,1.35],[-1.4,1.6],[-1.32,1.85],[-1.25,1.5],[-.95,1.7],[-.7,1.5],[-.65,1.85],[-.35,1.75],[-1.3,-1.65],[-1.35,-1.35],[-1.45,-1.35],[-.9,-1.6],[-.6,-1.65],[-.5,-1.85],[-.2,-1.95],[.35,-1.85],[.1,-1.95],[.55,-1.85],[.78,-1.55]];
const testC=[[-2.75,.62],[-2.2,2.18],[-1.88,2.62],[-1.33,2.85],[-.8,2.5],[-.62,2.27],[-.52,2.05],[-.75,2],[-1.15,2.25],[-1.45,1.9],[-1.35,2.05],[-2.05,1.72],[-1.85,1.2],[-1.75,1.25],[-.05,2.5],[0,2.08],[.05,2.1],[1.65,3.02],[3.35,2.93],[2.87,2.65],[3.05,2.35],[1.28,2.3],[1.52,1.68],[1.57,1.75],[1.95,1.4],[2.05,1.55],[2.02,1.4],[2.18,1.2],[1.25,1.25],[1.05,1.25],[1,1.2],[3.32,.85],[2.45,.3],[2.62,.25],[2.82,.15],[2.35,-.15],[2.5,-.35],[1.65,.55],[1.7,.4],[1.75,.5],[1.8,.15],[2,.1],[2.02,.25],[1.4,.7],[1.3,.55],[1.45,.45],[1.55,-.1],[1.5,-.35],[1.62,-.45],[1.5,-.75],[1.75,-1.25],[1.78,-1.45],[-2.25,.8],[-2.2,.85],[-2.12,.75],[-2.08,.9],[-2.25,.45],[-2.38,.05],[-2.25,-.45],[-2.15,-.5],[-2.05,-.3],[-1.97,-.05],[-1.9,.3],[-1.78,.3],[-1.82,.8],[-1.8,-.55],[-1.72,-1],[-1.55,-.6],[-1.45,-.3],[-1.5,.6],[-1.4,1],[-1.3,-1.35],[-1.25,.4],[-1.2,1.65],[-1.15,.95],[-1.15,-.1],[-1.08,-.65],[-1.05,1.2],[-1.02,-1.2],[-1,.25],[-.95,1.55],[-.95,-.5],[-.9,.9],[-.88,-.9],[-.85,-1.6],[-.82,.4],[-.8,1.25],[-.78,-.15],[-.75,-1.85],[-.75,-2.13],[-.7,-1.1],[-.68,1.55],[-.65,.7],[-.62,-.35],[-.6,.15],[-.58,-1.55],[-.55,1],[-.52,-.7],[-.5,.4],[-.45,-1.2],[-.42,-.1],[-.4,.75],[-.38,-.45],[-.35,-1.9],[-.32,.2],[-.3,-.85],[-.28,-.25],[-.25,1.05],[-.22,-.6],[-.2,.05],[-.18,-1.95],[-.18,.5],[-.15,-1.2],[-.12,-.35],[-.1,.7],[-.1,-.8],[-.08,.2],[-.05,-.5],[-.05,1.55],[-.02,-.1],[0,-1],[.02,.45],[.02,-.65],[.05,-.25],[.08,-1.35],[.08,0],[.1,-.55],[.12,.35],[.12,-.85],[.15,-.3],[.18,-1.1],[.18,.1],[.2,-.6],[.22,-.15],[.25,.5],[.25,-.8],[.28,-1.6],[.3,-.4],[.3,.15],[.32,-1],[.35,-.1],[.38,-.6],[.38,.7],[.4,.2],[.42,-1.25],[.45,-.25],[.45,-.75],[.48,.4],[.5,-.05],[.52,-.95],[.55,-.45],[.58,1.25],[.6,.15],[.6,-1.5],[.62,-.2],[.65,.5],[.68,-.7],[.7,.05],[.72,-1.1],[.75,.3],[.78,-.25],[.8,.65],[.82,-.75],[.85,.1],[.88,-.4],[.9,-1.5],[.92,.35],[.95,-.1],[1,-.6],[1.05,.1],[1.1,-.2],[1.15,.85],[1.2,.3],[1.3,-.8],[-.7,.05],[-.8,.75],[-1,-.1],[-.55,-1],[-.25,-1.6],[-1.1,.5],[-.6,-1.8],[-1.2,-.7],[-.4,1.1],[-.15,-.05],[.55,.25],[.28,-.2],[.1,-.1],[.35,-.35],[.2,-.35]];
const testC2=[[-.62,-.1],[-.58,-.55],[-.55,.05],[-.53,.55],[-.5,-.25],[-.48,-.9],[-.46,.15],[-.44,-.45],[-.42,.45],[-.4,-.75],[-.38,.05],[-.36,.65],[-.34,-.25],[-.32,-.55],[-.3,.35],[-.28,-1.05],[-.26,.1],[-.24,.6],[-.22,-.3],[-.2,-.8],[-.18,.25],[-.16,-.55],[-.14,.05],[-.12,.45],[-.1,-.6],[-.08,-1.05],[-.06,-.2],[-.04,.4],[-.02,-.8],[0,.1],[0,-.35],[.02,.75],[.04,-.5],[.05,.25],[.06,-1.1],[.08,-.4],[.1,.35],[.1,-.75],[.12,-.2],[.14,.6],[.15,-.55],[.16,0],[.18,-.8],[.2,.3],[.22,-.45],[.23,-1],[.25,.05],[.27,-.6],[.28,.7],[.3,-.2],[.32,.35],[.33,-.75],[.35,-1.2],[.36,.1],[.38,-.35],[.4,-.85],[.42,.45],[.43,-.1],[.45,-.55],[.47,-1.05],[.48,.1],[.5,-.4],[.5,.6],[.52,-.7],[.54,.25],[.55,-.15],[.57,-1.2],[.58,-.6],[.6,.45],[.61,-.3],[.63,-.85],[.65,.1],[.66,-.45],[.68,.3],[.7,-.2],[.72,.6],[.73,-.6],[.75,.05],[.77,-.9],[.78,.4],[.8,-.1],[.82,.2],[.84,-.5],[.86,.5],[.9,-.15],[.93,.1],[.96,-.35],[1,.3],[1.03,-.15],[1.08,.45],[-.65,-.6],[-.68,.3],[-.72,-.4],[-.75,.55],[-.78,-.75],[-.82,.05],[-.85,-.3],[-.88,.55],[-.9,-.6],[-.92,.2],[-.95,.75],[-.98,-.25],[-1,-.75],[-1.02,.55],[-1.05,.05],[-1.08,-.3],[-1.1,1.05],[-1.12,-.45],[-1.15,.3],[-1.18,.7],[-1.2,-.35],[-1.22,1.1],[-1.25,-.1],[-1.28,.75],[-1.3,1.3],[-1.32,-.55],[-1.35,.45],[-1.38,1.2],[-1.4,.05],[-1.42,-.85],[-1.45,.7],[-1.48,-.65],[-1.05,-1],[-.92,-1.3],[-.8,-1.05],[-.72,-1.55],[-.62,-1.25],[-.5,-1.55],[-.42,-1.75],[-.3,-1.3],[-.12,-1.6],[.02,-1.3],[.22,-1.3],[.45,-1.5],[.7,-1.35],[.75,-1.05],[.9,-.9],[1.15,-.55],[1.25,-.3],[1.35,-.5],[1.25,.65],[1.15,.55],[-.6,1.2],[-.72,.95],[-.85,1.45],[-1.05,1.55],[-.48,.95],[-.42,1.45],[-.2,.9],[.05,.95],[.3,.95],[.55,.85]];
const testC3=[[-.35,-.05],[-.28,.4],[-.18,-.1],[-.12,-.7],[-.05,.15],[.03,-.15],[.07,.15],[.12,-.5],[.17,-.25],[.23,.15],[.27,-.35],[.33,.1],[.4,-.3],[.44,-.4],[.49,-.7],[.53,.1],[.58,-.3],[.62,.3],[.67,-.1],[.73,-.35],[.28,-.8],[.37,-.95],[.16,-.95],[.02,-.95],[-.15,-.95],[-.25,-.7],[-.42,-.95],[-.55,-.25],[-.62,.4],[-.75,.15],[-.88,-.1],[-.98,.35],[-1.12,.1],[-1.28,.25],[-1.42,.45],[-.72,-.85],[-.92,-.8],[-1.15,-.85],[-.55,.75],[-.78,.35]];

const trainD=[[527,9.2],[798,8.1],[385,7.6],[600,7.5],[620,7.35],[577,7.3],[548,7.35],[505,7.6],[527,7],[555,7],[590,6.9],[610,6.6],[632,6.6],[645,6],[720,6.4],[853,5.7],[862,5.5],[875,5.6],[720,5.7],[735,5.45],[666,5.4],[780,5.05],[792,4.7],[805,4.6],[655,4.4],[635,4.35],[853,3.8],[1202,3.25],[968,1.7],[985,.65],[1255,.15],[822,2],[785,2.1],[780,2.3],[827,.7],[812,1.15],[860,-3.75],[672,1.65],[620,1.1],[620,.35],[545,-.6],[580,-1.1],[580,-1.35],[610,-1.85],[625,-1.9],[470,-3.9],[330,-7],[620,-13.2],[145,-4.1],[75,-3],[100,-2.2],[190,-3.65],[220,-2.85],[130,-3.7],
[85,.2],[110,-.8],[115,.3],[125,.05],[120,1.5],[125,2],[135,1.2],[140,-.3],[150,2.85],[150,1.6],[160,.5],[165,1],[165,2.3],[170,-1.7],[175,-.5],[180,2.1],[185,1.2],[190,.4],[195,-1],[205,1.5],[205,2.4],[210,-.4],[215,3.6],[222,4.3],[225,-.9],[225,1],[230,-1.5],[235,3.1],[240,.5],[245,-1.5],[248,3.9],[250,4.25],[255,-1.15],[258,1.1],[260,.1],[262,3.3],[265,-1.6],[270,1.45],[272,4.9],[275,-.7],[280,.5],[285,-2.1],[288,-1.15],[292,.9],[295,5.4],[300,-.3],[305,1.1],[310,-.7],[315,5.6],[320,.35],[325,-1.4],[330,1.5],[335,-.1],[340,-.6],[345,.8],[350,5.9],[355,-2],[360,-1.9],[365,.4],[370,1.5],[375,-.7],[380,6.4],[385,.9],[395,1.6],[400,.1],[405,6.5],[410,1],[415,.6],[420,6.8],[425,1.7],[430,6.9],[432,-2.4],[438,-2.15],[445,-1.4],[450,1.9],[455,-1.8],[460,6.6],[465,.4],[470,-1],[480,6.5],[485,1.5],[490,-.4],[495,.2],[500,6.1],[505,2.2],[510,3],[515,6.4],[520,1.3],[528,.4],[530,2.9],[535,2.5],[545,6.4],[545,1],[555,3.2],[560,6.2],[565,2],[570,4.1],[575,6.1],[580,3.5],[585,5.2],[590,1.55],[595,2.2],[598,4.6],[600,1.9],[605,3.3],[610,4.5],[612,5.7],[618,3.1],[622,4.9],[628,5.3],[630,6.1],[635,3.6],[640,5.8],[645,4.9],[650,6.2],[660,5.5],
[135,.7],[145,.9],[155,1.3],[170,1.7],[190,2],[200,.8],[215,2],[225,1.9],[235,1.6],[240,2.1],[250,1.5],[255,2],[265,.9],[275,1.3],[285,1.1],[300,1.5],[315,1.2],[340,1.3],[355,1.1],[375,2],[390,.9],[400,1.7],[410,2.4],[425,1.1],[440,2.2],[455,1.2],[470,2.5],[480,2.9],[495,2.9],[505,1.6],[515,2.1],[525,3.2]];
const trainD2=[[150,.2],[158,-.9],[168,.1],[172,1.1],[180,-.6],[183,.7],[188,1.6],[193,-.3],[198,1.3],[203,.2],[208,2],[212,-1.1],[218,.5],[220,1.4],[228,.1],[232,-.3],[238,1],[242,-.9],[247,.2],[252,.8],[256,-.4],[263,1.7],[268,-.2],[272,.3],[278,.9],[282,-.5],[290,.2],[295,-1.3],[298,.6],[303,-1.6],[308,.6],[312,1.5],[318,-.4],[322,.9],[328,-.9],[333,.7],[338,1.7],[343,.2],[348,1.6],[352,-.5],[358,.6],[362,1.2],[368,-.2],[372,.7],[378,1.3],[382,.3],[388,1.7],[392,.3],[398,.9],[403,1.4],[408,-.3],[412,.4],[418,1.5],[422,-.1],[428,.7],[435,1.4],[442,.8],[448,.2],[452,1.6],[458,.8],[462,1.6],[468,1.9],[472,-.6],[478,1],[482,2.3],[488,.7],[492,2.3],[498,1.2],[502,2.7],[508,.9],[512,3.3],[518,2.7],[524,2],[532,3.5],[538,1.2],[542,3.7],[548,2.9],[552,3.9],[558,2.4],[562,4.3],[568,3.1],[572,1.6],[578,2.5],[582,4.4],[588,2.9],[592,4.1],[602,2.7],[608,2.4],[615,4.2],[625,4.1],[642,4.4],[648,5.5],[655,5.2],[280,5.1],[290,5.6],[305,5.8],[330,6],[345,6.3],[362,6.3],[395,6.2],[412,6.7],[440,6.7],[452,6.9],[470,6.4],[490,6.6],[510,6.7],[530,6.1],[540,6.8],[585,6.4],[600,6.2],[620,6]];
const testD=[[457,7.65],[505,7.7],[482,6.95],[545,7],[687,6.7],[660,6.1],[650,5.05],[705,4.45],[765,3.65],[775,2.5],[805,1.15],[735,.35],[612,1.2],[610,-1.15],[485,-1.25],[500,0],[360,-1.4],[315,-1.45],[175,-1.55],[195,-2],[130,-3.75],[110,1.15],[125,.9],[140,1.6],[165,1.5],[175,.2],[180,-.1],[190,.05],[160,-.3],[215,-.9],[220,-.4],[240,-.3],[245,0],[220,3.7],[205,2.05],[300,-.65],[285,.35],[435,.3],[430,-.15],[435,-.5],[470,-.05],[410,.1],[380,.4],[400,1.2],[340,.8],[575,2.75],[592,3.8],[600,3.4],[570,4.15],[585,4.6],[610,5.4],[640,5.6],[305,6.05],
[225,2.3],[235,2.6],[240,3],[250,2.2],[255,2.8],[258,3.4],[265,2.1],[268,2.9],[270,3.6],[275,2.5],[275,4.2],[280,3.2],[283,4.7],[285,2],[288,3.8],[292,2.6],[295,3.3],[297,4.4],[300,5],[302,2.2],[305,3.7],[307,2.9],[310,4.3],[312,5.5],[315,1.8],[316,3.2],[318,4.8],[322,2.5],[323,3.8],[325,5.3],[328,1.7],[330,2.9],[332,4.3],[335,3.4],[337,5.7],[339,2.2],[340,4.8],[343,1.5],[345,3],[347,3.9],[349,5.2],[352,2.5],[353,4.4],[355,3.4],[358,5.7],[360,1.9],[362,4.8],[364,2.9],[366,3.8],[368,5.3],[371,2.3],[372,4.3],[374,3.3],[376,5.8],[378,1.7],[380,4.8],[382,2.8],[384,3.7],[386,5.4],[389,2.2],[390,4.3],[392,3.2],[394,5.9],[396,2.7],[398,4.8],[400,3.7],[402,5.3],[404,2],[406,4.2],[408,3],[410,6.1],[412,5],[414,2.5],[416,3.6],[418,4.5],[420,5.7],[422,3],[424,2.1],[426,4],[428,5.2],[430,3.4],[432,6],[434,4.6],[436,2.6],[438,3.8],[440,5.6],[442,4.3],[444,3.1],[446,6.3],[448,5],[450,3.6],[452,4.4],[454,2.5],[456,5.7],[458,6.7],[460,4],[462,3.2],[464,5.3],[466,4.7],[468,6],[470,3.5],[472,2.5],[474,5],[476,4.2],[478,5.8],[480,3.7],[484,4.6],[486,5.4],[488,3.1],[490,6.1],[492,4.2],[495,5.1],[498,3.7],[500,5.7],[503,4.6],[506,6],[509,3.5],[512,5.1],[515,4.4],[518,5.7],[522,4.8],[525,5.3],[530,4.5],[534,5.8],[538,5],[542,4.3],[546,5.5],[550,6.1],[553,4.9],[557,5.5],[562,4.6],[566,5.8],[570,5.2],[575,5.6],[580,5.2],[585,5.8],[592,5.5],[600,5.6],[300,1.6],[280,1.9],[360,2.1],[262,4.4],[250,3.7],[420,1.4],[445,1.9],[510,2.7]];
const testD2=[[232,2.9],[245,2.6],[252,3.1],[262,2.6],[272,3],[278,3.7],[282,2.4],[287,4.3],[290,3.1],[294,2.1],[299,3.6],[304,4.7],[309,2.4],[313,3.6],[317,2.6],[320,5.1],[326,3.4],[329,4.8],[334,2.5],[338,3.7],[342,5.3],[346,2.5],[350,3.4],[354,4.9],[357,2.9],[361,5.3],[365,4.3],[369,2.7],[373,5.1],[377,3.7],[381,5.4],[385,3.1],[388,4.6],[391,2.6],[395,4.1],[399,5.6],[403,3.3],[407,5.6],[411,3.9],[415,5.4],[419,2.8],[423,4.4],[427,3.2],[431,5.6],[435,4.1],[439,3],[443,5.1],[447,3.9],[451,5.9],[455,3.2],[459,5],[463,4.4],[467,3.7],[471,5.5],[475,3.2],[479,4.9],[483,4],[487,5.9],[491,4.8],[494,3.5],[497,6],[501,4.2],[505,5.4],[508,4.1],[511,5.7],[514,4.9],[517,4.1],[520,5.2],[524,4.5],[528,5.6],[532,5],[536,4.6],[540,5.6],[545,4.8],[549,5.2],[555,5.9],[560,5.2],[565,5.4],[572,5.9],[578,5],[590,5.2],[598,5.3],[605,5.2],[470,6.5],[455,6.2],[440,6],[425,5.9],[405,5.8],[385,5.8],[365,5.8],[345,5.7],[330,5.7],[462,7],[475,6.3],[500,6.3],[520,6],[370,1.9],[385,2.2],[400,2.6],[415,2.1],[430,2.6],[445,2.6],[460,2.8],[475,3],[490,3.6],[505,3.9],[525,4],[545,4.7],[325,2.1],[340,1.9],[300,2.6],[310,2],[270,2.3],[258,2.4],[240,2.4],[228,2.7]];
const testD3=[[255,3.9],[262,3.3],[268,4.4],[272,3.4],[277,4.9],[282,4.2],[286,5.2],[290,4.6],[293,5.5],[296,3.9],[298,5.9],[302,4.2],[303,5.4],[306,4.9],[308,6],[311,3.2],[314,4.7],[316,5.9],[319,4.1],[321,5.6],[324,4.6],[327,6],[331,5.2],[333,3.6],[336,4.4],[338,6],[341,3.2],[344,4.4],[347,5.9],[351,4.1],[354,6],[356,5.3],[359,3.7],[363,6.1],[365,3.4],[367,4.6],[370,5.7],[374,6],[377,4.3],[379,2.4],[383,4.3],[383,6.1],[387,3.5],[390,5.1],[393,3.9],[397,5.2],[397,6.2],[401,4.5],[405,2.8],[409,4.6],[413,3.3],[413,6],[417,5],[421,4.1],[425,2.7],[425,5.5],[429,4.4],[433,2.9],[433,5.3],[437,4.9],[441,3.5],[441,6.3],[445,4.6],[449,3.1],[453,5.4],[457,3.7],[457,6.3],[461,4.7],[465,3.5],[469,4.3],[473,3.9],[477,5.5],[481,3.3],[481,5.2],[485,5],[485,3.4],[489,4.5],[493,5.5],[496,4.5],[499,5.3],[502,3.4],[504,5],[507,4.8],[510,5.4],[513,3.9],[516,5.2],[519,4.5],[523,5.8],[526,4.2],[529,5],[533,4.3],[535,5.4],[539,4.5],[541,5.9],[544,5.1],[548,4.6],[551,5.5],[554,5.2],[559,4.9],[563,5.6],[568,4.9],[573,5.3],[577,5.4],[583,5.5],[588,5.4],[595,5.8],[602,5.4],[608,5.7],[240,2.7],[247,3.3],[243,3.5],[235,3],[225,2.7],[220,2.3],[215,2.2],[228,2.1]];

const xTicksA=[-3,-2,-1,0,1,2],xMinorA=[-2.5,-1.5,-.5,.5,1.5];
const yTicksPC=[-2.5,0,2.5,5],yMinorA=[-1.25,1.25,3.75],yMinorPC3=[-1.25,1.25,3.75,6.25];
const xTicksC=[-2.5,0,2.5,5],xMinorC=[-1.25,1.25,3.75];
const xTicksD=[250,500,750,1000,1250],xMinorD=[125,375,625,875,1125];
const yTicksD=[-10,-5,0,5,10],yMinorD=[-12.5,-7.5,-2.5,2.5,7.5];
const fixed1=v=>v.toFixed(1),plain=v=>String(v);

const panels=[
 {tag:"(a)",tagX:50,tagY:41,legY:12.5,legX:[120,143,256.7,280],train:trainA.concat(trainA2),test:testA.concat(testA2,testA3),
  box:[53,52,383,273],xd:[-3.31,2.18],yd:[-3.01,5.11],xt:xTicksA,xm:xMinorA,yt:yTicksPC,ym:yMinorA,xf:plain,yf:fixed1,
  xTitle:"PC1",yTitle:"PC2",tx:218,ty:309,tyX:16.5,tyY:162,fs:15},
 {tag:"(b)",tagX:443.5,tagY:41,legY:12.5,legX:[516.3,540.3,653,676.3],train:trainB.concat(trainB2),test:testB.concat(testB2,testB3),
  box:[449.3,52,780,275],xd:[-3.32,2.19],yd:[-2.65,6.82],xt:xTicksA,xm:xMinorA,yt:yTicksPC,ym:yMinorPC3,xf:plain,yf:fixed1,
  xTitle:"PC1",yTitle:"PC3",tx:614,ty:308,tyX:412,tyY:160,fs:15},
 {tag:"(c)",tagX:50,tagY:358,legY:334.5,legX:[120,143,256.7,280],train:trainC.concat(trainC2),test:testC.concat(testC2,testC3),
  box:[53,374,383,595],xd:[-3.05,5.13],yd:[-2.55,6.79],xt:xTicksC,xm:xMinorC,yt:yTicksPC,ym:yMinorPC3,xf:fixed1,yf:fixed1,
  xTitle:"PC2",yTitle:"PC3",tx:218,ty:630,tyX:17,tyY:483,fs:15},
 {tag:"(d)",tagX:442,tagY:358,legY:334.5,legX:[514.7,538,652,674.7],train:trainD.concat(trainD2),test:testD.concat(testD2,testD3),
  box:[446,374,780,595],xd:[15.7,1313],yd:[-14.3,10.27],xt:xTicksD,xm:xMinorD,yt:yTicksD,ym:yMinorD,xf:plain,yf:plain,
  xTitle:"Molecular Weight",yTitle:"SlogP",tx:613.7,ty:630.5,tyX:412.7,tyY:485,fs:16}
];

const svg=d3.select("#c");
svg.append("rect").attr("width",784).attr("height",639).attr("fill","#fff");

panels.forEach(p=>{
 const [l,t,r,b]=p.box;
 const x=d3.scaleLinear().domain(p.xd).range([l,r]);
 const y=d3.scaleLinear().domain(p.yd).range([b,t]);
 const g=svg.append("g");
 g.append("rect").attr("x",l).attr("y",t).attr("width",r-l).attr("height",b-t).attr("fill","#EBEBEB");
 const grid=(vals,sw)=>{
  g.append("g").selectAll("line").data(vals).join("line").attr("x1",d=>x(d)).attr("x2",d=>x(d)).attr("y1",t).attr("y2",b).attr("stroke","#fff").attr("stroke-width",sw);
 };
 const gridH=(vals,sw)=>{
  g.append("g").selectAll("line").data(vals).join("line").attr("y1",d=>y(d)).attr("y2",d=>y(d)).attr("x1",l).attr("x2",r).attr("stroke","#fff").attr("stroke-width",sw);
 };
 grid(p.xm,.6);gridH(p.ym,.6);grid(p.xt,1.2);gridH(p.yt,1.2);

 const dots=(data,c)=>g.append("g").selectAll("circle").data(data).join("circle")
   .attr("cx",d=>x(d[0])).attr("cy",d=>y(d[1])).attr("r",2.5).attr("fill",c);
 dots(p.train,colors[0]);dots(p.test,colors[1]);

 const ax=g.append("g").attr("transform",`translate(0,${b})`).call(d3.axisBottom(x).tickValues(p.xt).tickFormat(p.xf).tickSize(3).tickPadding(3));
 const ay=g.append("g").attr("transform",`translate(${l},0)`).call(d3.axisLeft(y).tickValues(p.yt).tickFormat(p.yf).tickSize(3).tickPadding(3));
 [ax,ay].forEach(a=>{
  a.select(".domain").remove();
  a.selectAll(".tick line").attr("stroke","#333").attr("stroke-width",1);
  a.selectAll(".tick text").attr("fill","#4D4D4D").style("font-size","13px").style("font-weight","bold").style("font-family",'"Liberation Sans",Arial,sans-serif');
 });

 g.append("text").attr("x",p.tx).attr("y",p.ty).attr("text-anchor","middle").attr("font-size",p.fs).attr("fill","#111").text(p.xTitle);
 g.append("text").attr("transform",`translate(${p.tyX},${p.tyY}) rotate(-90)`).attr("text-anchor","middle").attr("font-size",p.fs).attr("fill","#111").text(p.yTitle);
 g.append("text").attr("x",p.tagX).attr("y",p.tagY).attr("font-size",22).attr("fill","#111").text(p.tag);

 const [d1,t1,d2,t2]=p.legX;
 g.append("circle").attr("cx",d1).attr("cy",p.legY).attr("r",2.3).attr("fill",colors[0]);
 g.append("circle").attr("cx",d2).attr("cy",p.legY).attr("r",2.3).attr("fill",colors[1]);
 g.append("text").attr("x",t1).attr("y",p.legY+5.5).attr("font-size",16).attr("fill","#111").text(seriesNames[0]);
 g.append("text").attr("x",t2).attr("y",p.legY+5.5).attr("font-size",16).attr("fill","#111").text(seriesNames[1]);
});
</script></body></html>
